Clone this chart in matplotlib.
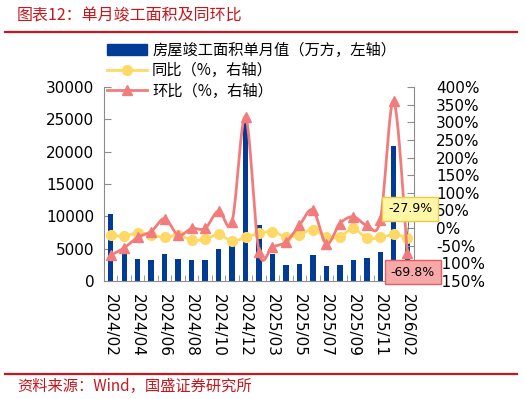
import numpy as np
import matplotlib
matplotlib.use("Agg")
import matplotlib.pyplot as plt
from matplotlib.lines import Line2D
from matplotlib.patches import Patch

plt.rcParams['font.family'] = ['DejaVu Sans', 'Noto Sans CJK SC']

months = ["2024/02", "2024/03", "2024/04", "2024/05", "2024/06", "2024/07", "2024/08",
          "2024/09", "2024/10", "2024/11", "2024/12", "2025/02", "2025/03", "2025/04",
          "2025/05", "2025/06", "2025/07", "2025/08", "2025/09", "2025/10", "2025/11",
          "2025/12", "2026/02"]
area = [10300, 4900, 3470, 3320, 4240, 3470, 3320, 3320, 5020, 5900, 24800, 8720,
        4240, 2550, 2700, 4090, 2390, 2550, 3320, 3630, 4550, 20800, 6280]
yoy = [-20, -23, -13, -20, -26, -20, -34, -32, -18, -37, -26, -15, -10, -25, -20,
       -4, -25, -25, -1, -29, -26, -18, -27.9]
mom = [-77, -56, -26, -10, 27, -20, -1, -1, 49, 18, 315, -67, -53, -39, 8, 51, -45,
       13, 32, 8, 23, 360, -69.8]

bar_label = "房屋竣工面积单月值（万方，左轴）"
yoy_label = "同比（%，右轴）"
mom_label = "环比（%，右轴）"

BLUE = "#003C96"
YEL = "#FFD966"
RED = "#F27C7C"
DARKRED = "#C8161D"
GREY = "#8C8C8C"


def smooth(xs, ys, n=24):
    xs = np.asarray(xs, float)
    ys = np.asarray(ys, float)
    ox, oy = [], []
    m = len(xs)
    for i in range(m - 1):
        i0 = max(i - 1, 0)
        i3 = min(i + 2, m - 1)
        p0 = np.array([xs[i0], ys[i0]])
        p1 = np.array([xs[i], ys[i]])
        p2 = np.array([xs[i + 1], ys[i + 1]])
        p3 = np.array([xs[i3], ys[i3]])
        c1 = p1 + (p2 - p0) / 6.0
        c2 = p2 - (p3 - p1) / 6.0
        for t in np.linspace(0, 1, n, endpoint=False):
            b = ((1 - t) ** 3) * p1 + 3 * ((1 - t) ** 2) * t * c1 + 3 * (1 - t) * t * t * c2 + t ** 3 * p2
            ox.append(b[0]); oy.append(b[1])
    ox.append(xs[-1]); oy.append(ys[-1])
    return np.array(ox), np.array(oy)


fig = plt.figure(figsize=(5.25, 3.99), dpi=100)
ax = fig.add_axes([104 / 525, 1 - 281 / 399, 310 / 525, 194 / 399])
ax2 = ax.twinx()

x = np.arange(len(months))
ax.bar(x, area, width=0.4, color=BLUE, zorder=2)
ax.set_xlim(-0.5, len(months) - 0.5)
ax.set_ylim(0, 30000)
ax.set_yticks(np.arange(0, 30001, 5000))

sx, sy = smooth(x, yoy)
ax2.plot(sx, sy, color=YEL, lw=2, zorder=3)
ax2.plot(x, yoy, ls='none', marker='o', ms=7, color=YEL, zorder=3)
sx, sy = smooth(x, mom)
ax2.plot(sx, sy, color=RED, lw=2, zorder=4)
ax2.plot(x, mom, ls='none', marker='^', ms=7.5, color=RED, zorder=4)
ax2.set_ylim(-150, 400)
ax2.set_yticks(np.arange(-150, 401, 50))
ax2.set_yticklabels([f"{v}%" for v in range(-150, 401, 50)])

ax.set_xticks(x[::2])
ax.set_xticklabels(months[::2], rotation=-90, fontsize=11)
ax.set_xticks(np.arange(-0.5, len(months), 1), minor=True)
ax.tick_params(axis='x', which='major', length=0, pad=9)
ax.tick_params(axis='x', which='minor', direction='in', length=4, color=GREY)
ax.tick_params(axis='y', direction='in', length=5, color=GREY, labelsize=11, pad=7)
ax2.tick_params(axis='y', direction='in', length=5, color=GREY, labelsize=11, pad=16)

for a in (ax, ax2):
    a.spines['top'].set_visible(False)
    for s in ('left', 'right', 'bottom'):
        a.spines[s].set_color(GREY)
ax.spines['right'].set_visible(False)
ax2.spines['left'].set_visible(False)
ax2.spines['bottom'].set_visible(False)

# data labels for the last points
ax2.annotate(f"{yoy[-1]}%", xy=(x[-1], yoy[-1]), xytext=(2, 21), textcoords='offset points',
             ha='center', va='center', fontsize=9, zorder=6,
             bbox=dict(boxstyle='square,pad=0.45', fc='#FFF6A6', ec='#EACB4A', lw=1),
             arrowprops=dict(arrowstyle='-', color='#555555', lw=0.6, shrinkA=0, shrinkB=3))
ax2.annotate(f"{mom[-1]}%", xy=(x[-1], mom[-1]), xytext=(4, -14), textcoords='offset points',
             ha='center', va='center', fontsize=9, zorder=6,
             bbox=dict(boxstyle='square,pad=0.45', fc='#F7A9A9', ec='#E06060', lw=1))

handles = [Patch(fc=BLUE, ec=BLUE),
           Line2D([], [], color=YEL, lw=2, marker='o', ms=7),
           Line2D([], [], color=RED, lw=2, marker='^', ms=7.5)]
fig.legend(handles, [bar_label, yoy_label, mom_label], loc='upper left',
           bbox_to_anchor=(107 / 525, 1 - 42 / 399), frameon=False, borderpad=0,
           borderaxespad=0, handlelength=2.6, handletextpad=0.35,
           labelspacing=0.22, prop={'family': ['Noto Sans CJK SC'], 'size': 11})

fig.text(17 / 525, 1 - 16 / 399, "图表12：单月竣工面积及同环比", color=DARKRED,
         fontsize=11.5, style='italic', va='center', ha='left',
         family=['Noto Sans CJK SC'])
fig.add_artist(Line2D([5 / 525, 517 / 525], [1 - 32 / 399] * 2, color=DARKRED, lw=1.6))
fig.add_artist(Line2D([5 / 525, 517 / 525], [1 - 374 / 399] * 2, color=DARKRED, lw=1.6))
fig.text(17 / 525, 1 - 386 / 399, "资料来源：Wind，国盛证券研究所", color=DARKRED,
         fontsize=11, style='italic', va='center', ha='left',
         family=['Noto Sans CJK SC', 'DejaVu Sans'])

fig.savefig("out.png", dpi=100)
